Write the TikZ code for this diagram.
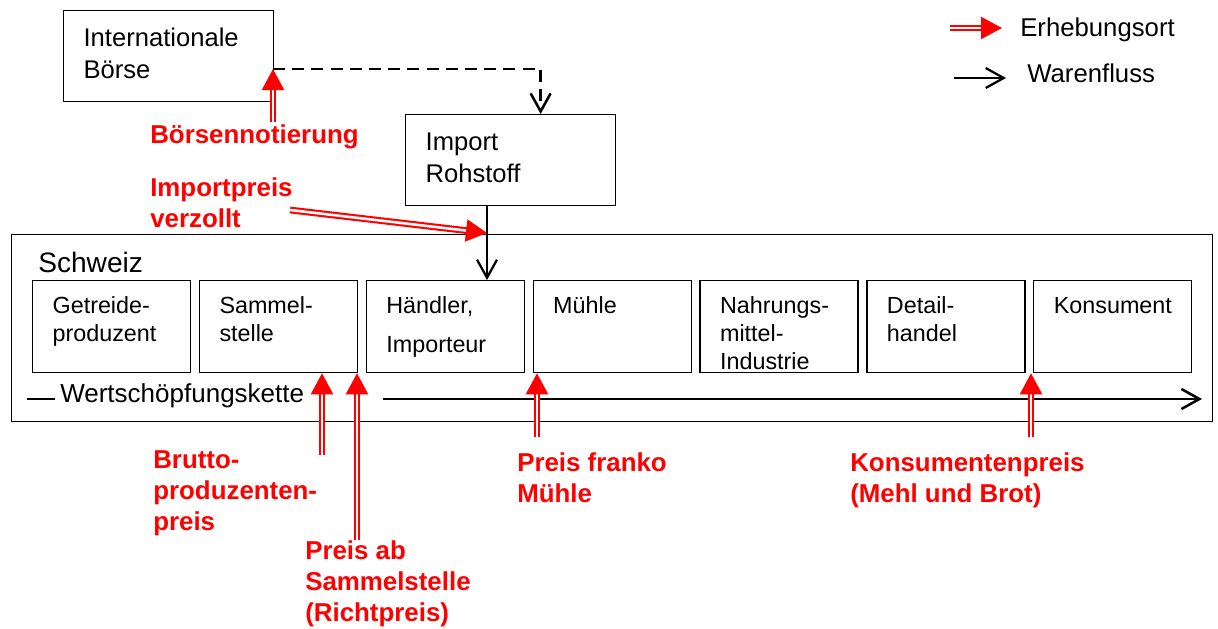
\documentclass[tikz,border=0pt]{standalone}
\usepackage{fontspec}
\setmainfont{Liberation Sans}
\usetikzlibrary{calc,arrows.meta,positioning}
\newcommand{\inbox}[2]{\hspace*{5mm}\parbox[t]{#1}{\raggedright #2}}
\tikzset{
	every node/.style={font=\fontsize{18.3}{22.5}\selectfont},
	stage/.style={draw, line width=0.9pt, inner sep=0pt, text height=8.25mm, text depth=14.75mm,
		font=\fontsize{16.6}{19.9}\selectfont},
	topbox/.style={draw, line width=0.9pt, inner sep=0pt, anchor=north west, text height=8.9mm, text depth=13.9mm,
		font=\fontsize{18.2}{22.7}\selectfont},
	pricelabel/.style={text=red, font=\fontsize{18.4}{22}\selectfont\bfseries, align=left, anchor=base west, inner sep=0pt},
	plain/.style={anchor=base west, inner sep=0pt}
}

\begin{document}
\begin{tikzpicture}[x=0.25mm, y=-0.25mm,
	flow/.style={line width=1.6pt, -{Straight Barb[length=4.5mm,width=5mm]}},
	survey/.style={draw=red, double=white, double distance=1.8pt, line width=1.5pt, -{Triangle[length=5.25mm,width=5.5mm]}}]
	\useasboundingbox (0,0) rectangle (1218,628);

	% Legend
	\coordinate (leg red a) at (950,28);
	\coordinate (leg red b) at (1002,28);
	\coordinate (leg flow a) at (954,78);
	\coordinate (leg flow b) at (1006,78);
	\node[plain] (leg red) at (1020,36) {Erhebungsort};
	\node[plain] (leg flow) at (1027,82) {Warenfluss};
	\draw[survey] (leg red a) -- (leg red b);
	\draw[flow] (leg flow a) -- (leg flow b);

	% Top boxes
	\node[topbox] (boerse) at (63,10) {\inbox{47.5mm}{Internationale\\Börse}};
	\node[topbox] (import) at (405,114) {\inbox{47.5mm}{Import\\Rohstoff}};

	% Schweiz
	\node[draw, line width=0.9pt, anchor=north west, inner sep=0pt, minimum width=300.25mm, minimum height=46.75mm] (schweiz) at (11,234) {};
	\node[plain, font=\fontsize{20}{24}\selectfont] (schweiz title) at (38,272) {Schweiz};

	\node[stage, anchor=north west] (getreide) at (32,280) {\inbox{34.5mm}{Getreide-\\produzent}};
	\node[stage, right=1.9mm of getreide] (sammel) {\inbox{34.5mm}{Sammel-\\stelle}};
	\node[stage, right=1.9mm of sammel] (haendler) {\inbox{34.5mm}{Händler,\\[2.6mm]Importeur}};
	\node[stage, right=1.9mm of haendler] (muehle) {\inbox{34.5mm}{Mühle}};
	\node[stage, right=1.9mm of muehle] (nahrung) {\inbox{34.5mm}{Nahrungs-\\mittel-\\Industrie}};
	\node[stage, right=1.9mm of nahrung] (detail) {\inbox{34.5mm}{Detail-\\handel}};
	\node[stage, right=1.9mm of detail] (konsument) {\inbox{34.5mm}{Konsument}};

	% Wertschoepfungskette
	\coordinate (chain a) at (27,399);
	\coordinate (chain b) at (55,399);
	\coordinate (chain c) at (383,399);
	\coordinate (chain d) at (1202,399);
	\node[plain, font=\fontsize{18.5}{22}\selectfont] (chain) at (60,402) {Wertschöpfungskette};
	\draw[line width=1.8pt] (chain a) -- (chain b);
	\draw[flow, line width=1.8pt] (chain c) -- (chain d);

	% Warenfluss
	\coordinate (quote) at (273,69);
	\coordinate (entry) at (487,233);
	\draw[flow, line width=1.8pt, dash pattern=on 3mm off 1.8mm] (quote) -| ($(import.north)+(30,0)$);
	\draw[flow] (import.south -| entry) -- (haendler.north -| entry);

	% Erhebungsorte (base = last line)
	\node[pricelabel] (boerse price) at (150,143) {Börsennotierung};
	\node[pricelabel] (import price) at (150,227) {Importpreis\\verzollt};
	\node[pricelabel] (brutto price) at (153,530) {Brutto-\\produzenten-\\preis};
	\node[pricelabel] (sammel price) at (305,621) {Preis ab\\Sammelstelle\\(Richtpreis)};
	\node[pricelabel] (muehle price) at (517,502) {Preis franko\\Mühle};
	\node[pricelabel] (konsum price) at (850,502) {Konsumentenpreis\\(Mehl und Brot)};

	\coordinate (boerse foot) at (273,122);
	\coordinate (import foot) at (290,210);
	\coordinate (brutto foot) at (322,455);
	\coordinate (sammel foot) at (357,540);
	\coordinate (muehle foot) at (537,437);
	\coordinate (konsum foot) at (1031,437);

	\draw[survey] (boerse foot) -- (quote);
	\draw[survey] (import foot) -- (entry);
	\draw[survey] (brutto foot) -- (sammel.south -| brutto foot);
	\draw[survey] (sammel foot) -- (sammel.south -| sammel foot);
	\draw[survey] (muehle foot) -- (muehle.south -| muehle foot);
	\draw[survey] (konsum foot) -- (detail.south -| konsum foot);
\end{tikzpicture}
\end{document}
